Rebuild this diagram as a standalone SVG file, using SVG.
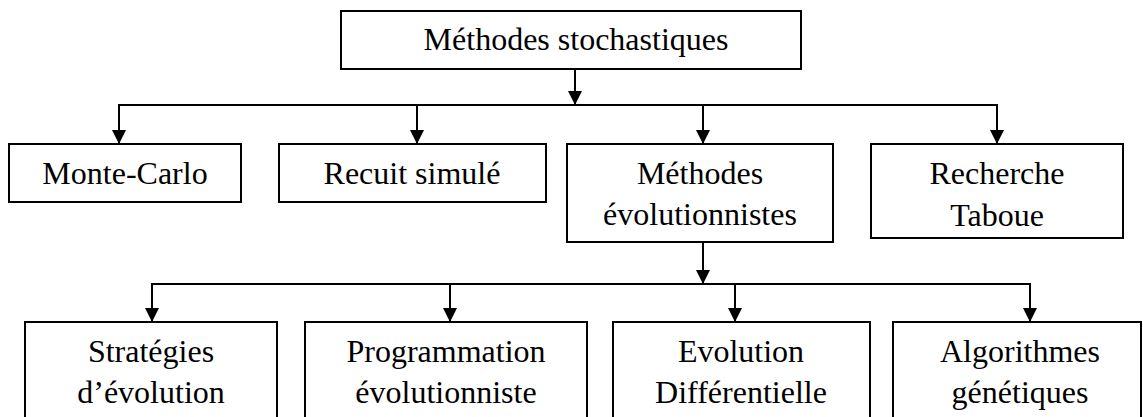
<svg xmlns="http://www.w3.org/2000/svg" width="1143" height="417" viewBox="0 0 1143 417">
<style>
rect{fill:#fff;stroke:#000;stroke-width:2}
text{font-size:32px;fill:#000;text-anchor:middle}
.c line{stroke:#000;stroke-width:2;fill:none}
</style>
<defs>
<marker id="ah" markerUnits="userSpaceOnUse" markerWidth="16" markerHeight="16" refX="14" refY="7" orient="auto" viewBox="0 0 16 14">
<path d="M0,0 L14,7 L0,14 Z" fill="#000"/>
</marker>
</defs>
<rect width="1143" height="417" style="stroke:none"/>
<g class="c" id="connectors">
<line x1="575" y1="69" x2="575" y2="105" marker-end="url(#ah)"/>
<line x1="118" y1="105" x2="997" y2="105"/>
<line x1="119" y1="105" x2="119" y2="144" marker-end="url(#ah)"/>
<line x1="417" y1="105" x2="417" y2="144" marker-end="url(#ah)"/>
<line x1="703" y1="105" x2="703" y2="144" marker-end="url(#ah)"/>
<line x1="997" y1="104" x2="997" y2="144" marker-end="url(#ah)"/>
<line x1="703" y1="242" x2="703" y2="284" marker-end="url(#ah)"/>
<line x1="151" y1="284" x2="1031" y2="284"/>
<line x1="152" y1="284" x2="152" y2="322" marker-end="url(#ah)"/>
<line x1="450" y1="284" x2="450" y2="322" marker-end="url(#ah)"/>
<line x1="735" y1="284" x2="735" y2="322" marker-end="url(#ah)"/>
<line x1="1030" y1="283" x2="1030" y2="322" marker-end="url(#ah)"/>
</g>
<g font-family="Liberation Serif, Tinos, Times New Roman, DejaVu Serif, Noto Serif, serif">
<g id="n-stochastiques">
<rect x="341" y="11" width="460" height="58"/>
<text x="576" y="50">Méthodes stochastiques</text>
</g>
<g id="n-montecarlo">
<rect x="9" y="144" width="232" height="58"/>
<text x="125" y="184">Monte-Carlo</text>
</g>
<g id="n-recuit">
<rect x="279" y="144" width="267" height="58"/>
<text x="412" y="184">Recuit simulé</text>
</g>
<g id="n-evolutionnistes">
<rect x="567" y="144" width="266" height="98"/>
<text x="700" y="184">Méthodes</text>
<text x="700" y="225">évolutionnistes</text>
</g>
<g id="n-taboue">
<rect x="871" y="144" width="252" height="94"/>
<text x="997" y="184">Recherche</text>
<text x="997" y="226">Taboue</text>
</g>
<g id="n-strategies">
<rect x="25" y="322" width="252" height="110"/>
<text x="151" y="362">Stratégies</text>
<text x="151" y="403">d’évolution</text>
</g>
<g id="n-programmation">
<rect x="305" y="322" width="282" height="110"/>
<text x="446" y="362">Programmation</text>
<text x="446" y="403">évolutionniste</text>
</g>
<g id="n-differentielle">
<rect x="613" y="322" width="257" height="110"/>
<text x="741" y="362">Evolution</text>
<text x="741" y="403">Différentielle</text>
</g>
<g id="n-genetiques">
<rect x="893" y="322" width="248" height="110"/>
<text x="1020" y="362">Algorithmes</text>
<text x="1020" y="403">génétiques</text>
</g>
</g>
</svg>
